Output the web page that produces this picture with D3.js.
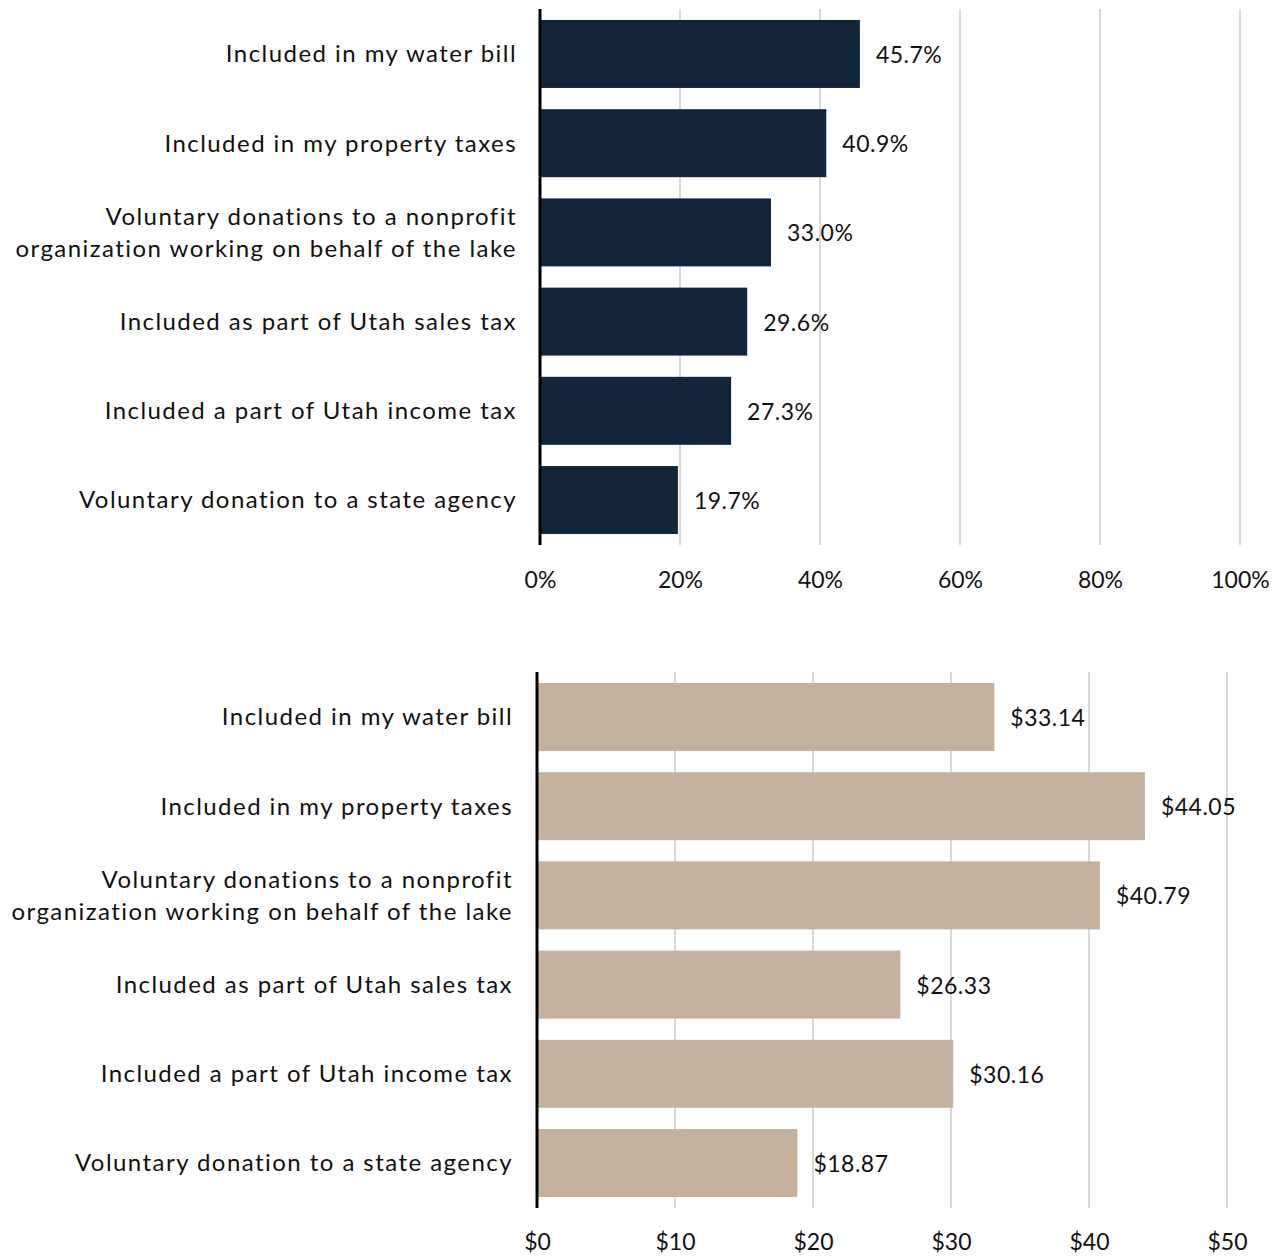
<!DOCTYPE html>
<html>
<head>
<meta charset="utf-8">
<script src="https://cdn.jsdelivr.net/npm/d3@7"></script>
<style>
  html, body { margin: 0; padding: 0; background: #fff; }
  svg text { font-family: "Lato", "Open Sans", sans-serif; fill: #111; }
</style>
</head>
<body>
<svg id="chart" width="1282" height="1256"></svg>
<script>
// Payment methods (each label may wrap onto two lines)
const categories = [
  ["Included in my water bill"],
  ["Included in my property taxes"],
  ["Voluntary donations to a nonprofit", "organization working on behalf of the lake"],
  ["Included as part of Utah sales tax"],
  ["Included a part of Utah income tax"],
  ["Voluntary donation to a state agency"]
];
// Share of respondents willing to pay by each method (%)
const shareValues = [45.7, 40.9, 33.0, 29.6, 27.3, 19.7];
// Average amount respondents are willing to pay by each method ($)
const amountValues = [33.14, 44.05, 40.79, 26.33, 30.16, 18.87];
const shareTicks = [0, 20, 40, 60, 80, 100];
const amountTicks = [0, 10, 20, 30, 40, 50];

const svg = d3.select("#chart");

function drawPanel(opts) {
  const g = svg.append("g");
  const x = d3.scaleLinear().domain(opts.domain).range([opts.x0, opts.x1]);
  const y = d3.scaleBand()
    .domain(d3.range(categories.length))
    .range([opts.yTop, opts.yBottom])
    .paddingInner(0.238)
    .paddingOuter(0.123);

  // vertical gridlines
  g.append("g").selectAll("line")
    .data(opts.ticks.filter(t => t !== 0))
    .join("line")
    .attr("x1", d => x(d)).attr("x2", d => x(d))
    .attr("y1", opts.yTop).attr("y2", opts.yBottom)
    .attr("stroke", "#d9d9d9").attr("stroke-width", 2);

  // bars
  g.append("g").selectAll("rect")
    .data(opts.values)
    .join("rect")
    .attr("x", x(0))
    .attr("y", (d, i) => y(i))
    .attr("width", d => x(d) - x(0))
    .attr("height", y.bandwidth())
    .attr("fill", opts.color);

  // value labels
  g.append("g").selectAll("text")
    .data(opts.values)
    .join("text")
    .attr("x", d => x(d) + 16)
    .attr("y", (d, i) => y(i) + y.bandwidth() / 2 + 1)
    .attr("dy", "0.35em")
    .attr("font-size", 23)
    .attr("letter-spacing", "0.5px")
    .text(opts.format);

  // category labels
  const lab = g.append("g").selectAll("text")
    .data(categories)
    .join("text")
    .attr("text-anchor", "end")
    .attr("font-size", 24)
    .attr("letter-spacing", "1.45px")
    .attr("transform", (d, i) => `translate(${opts.labelX},${y(i) + y.bandwidth() / 2})`);
  lab.each(function(lines) {
    const t = d3.select(this);
    const lh = 32;
    lines.forEach((s, k) => {
      t.append("tspan")
        .attr("x", 0)
        .attr("y", (k - (lines.length - 1) / 2) * lh)
        .attr("dy", "0.35em")
        .text(s);
    });
  });

  // baseline axis
  g.append("line")
    .attr("x1", x(0)).attr("x2", x(0))
    .attr("y1", opts.yTop).attr("y2", opts.yBottom)
    .attr("stroke", "#000").attr("stroke-width", 3);

  // tick labels via d3 axis
  const axis = d3.axisBottom(x)
    .tickValues(opts.ticks)
    .tickSize(0)
    .tickPadding(0)
    .tickFormat(opts.tickFormat);
  const ax = g.append("g")
    .attr("transform", `translate(0,${opts.tickY})`)
    .call(axis);
  ax.select(".domain").remove();
  ax.selectAll("text")
    .attr("font-size", 23)
    .attr("font-family", "Lato, 'Open Sans', sans-serif")
    .attr("fill", "#111")
    .attr("dy", "0.35em")
    .attr("y", 0);
}

drawPanel({
  values: shareValues,
  domain: [0, 100], x0: 540, x1: 1240,
  yTop: 9, yBottom: 545,
  ticks: shareTicks,
  color: "#13253A",
  labelX: 517,
  tickY: 580,
  format: d => d.toFixed(1) + "%",
  tickFormat: d => d + "%"
});

drawPanel({
  values: amountValues,
  domain: [0, 50], x0: 537, x1: 1227,
  yTop: 672, yBottom: 1208,
  ticks: amountTicks,
  color: "#C4B29E",
  labelX: 513,
  tickY: 1242,
  format: d => "$" + d.toFixed(2),
  tickFormat: d => "$" + d
});
</script>
</body>
</html>
